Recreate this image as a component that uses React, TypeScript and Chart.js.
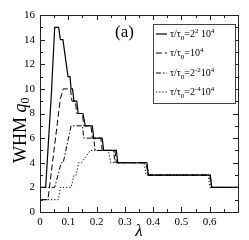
import React, { useEffect, useRef } from "react";
import { Chart, registerables } from "chart.js";
Chart.register(...registerables);

// series: tau/tau0 = 2^2 10^4 (solid)
const solidLambda = [0.005, 0.02, 0.04, 0.052, 0.066, 0.072, 0.081, 0.099, 0.106, 0.11, 0.115, 0.12, 0.13, 0.135, 0.152, 0.16, 0.185, 0.19, 0.22, 0.225, 0.27, 0.275, 0.378, 0.383, 0.602, 0.607, 0.7];
const solidValue = [2, 2, 9.5, 15, 15, 14, 14, 11, 11, 10, 10, 9, 9, 8, 8, 7, 7, 6, 6, 5, 5, 4, 4, 3, 3, 2, 2];
// tau/tau0 = 10^4 (dashed)
const dashLambda = [0.005, 0.028, 0.072, 0.082, 0.108, 0.113, 0.125, 0.13, 0.15, 0.155, 0.18, 0.185, 0.215, 0.22, 0.265, 0.27, 0.378, 0.383, 0.602, 0.607, 0.7];
const dashValue = [1, 1, 9.2, 10, 10, 9, 9, 8, 8, 7, 7, 6, 6, 5, 5, 4, 4, 3, 3, 2, 2];
// tau/tau0 = 2^-2 10^4 (dash-dot)
const dashDotLambda = [0.005, 0.052, 0.075, 0.082, 0.11, 0.15, 0.155, 0.19, 0.195, 0.26, 0.265, 0.376, 0.381, 0.6, 0.605, 0.7];
const dashDotValue = [2, 2, 4, 4, 7, 7, 6, 6, 5, 5, 4, 4, 3, 3, 2, 2];
// tau/tau0 = 2^-4 10^4 (dotted)
const dotLambda = [0.005, 0.065, 0.072, 0.11, 0.12, 0.128, 0.136, 0.146, 0.178, 0.242, 0.25, 0.368, 0.375, 0.595, 0.6, 0.7];
const dotValue = [1, 1, 2, 2, 3, 3, 4, 4, 5, 5, 4, 4, 3, 3, 2, 2];

const xTickLabels = [0, 0.1, 0.2, 0.3, 0.4, 0.5, 0.6];
const yTickLabels = [0, 2, 4, 6, 8, 10, 12, 14, 16];

const serif = "'Liberation Serif', 'DejaVu Serif', serif";

const pts = (xs: number[], ys: number[]) => xs.map((x, i) => ({ x, y: ys[i] }));

const styles = [
  { dash: [] as number[], width: 1.2 },
  { dash: [6, 3], width: 1 },
  { dash: [5, 2, 1.5, 2], width: 1 },
  { dash: [1.2, 2], width: 1 },
];

type Seg = { t: string; k: "n" | "sub" | "sup" };
const legendTexts: Seg[][] = [
  [{ t: "τ/τ", k: "n" }, { t: "0", k: "sub" }, { t: "=2", k: "n" }, { t: "2", k: "sup" }, { t: " 10", k: "n" }, { t: "4", k: "sup" }],
  [{ t: "τ/τ", k: "n" }, { t: "0", k: "sub" }, { t: "=10", k: "n" }, { t: "4", k: "sup" }],
  [{ t: "τ/τ", k: "n" }, { t: "0", k: "sub" }, { t: "=2", k: "n" }, { t: "-2", k: "sup" }, { t: "10", k: "n" }, { t: "4", k: "sup" }],
  [{ t: "τ/τ", k: "n" }, { t: "0", k: "sub" }, { t: "=2", k: "n" }, { t: "-4", k: "sup" }, { t: "10", k: "n" }, { t: "4", k: "sup" }],
];

const decorPlugin = {
  id: "decor",
  afterDraw(chart: any) {
    const ctx = chart.ctx as CanvasRenderingContext2D;
    const { left, right, top, bottom } = chart.chartArea;
    const xs = chart.scales.x;
    const ys = chart.scales.y;
    ctx.save();
    ctx.strokeStyle = "#222";
    ctx.lineWidth = 1;
    ctx.setLineDash([]);
    ctx.strokeRect(Math.round(left) + 0.5, Math.round(top) + 0.5, Math.round(right - left), Math.round(bottom - top));
    for (let i = 0; i <= 13; i++) {
      const v = i * 0.05;
      const px = Math.round(xs.getPixelForValue(v)) + 0.5;
      const len = i % 2 === 0 ? 5 : 3;
      ctx.beginPath();
      ctx.moveTo(px, bottom);
      ctx.lineTo(px, bottom - len);
      ctx.moveTo(px, top);
      ctx.lineTo(px, top + len);
      ctx.stroke();
    }
    for (let v = 0; v <= 16; v++) {
      const py = Math.round(ys.getPixelForValue(v)) + 0.5;
      const len = v % 2 === 0 ? 5 : 3;
      ctx.beginPath();
      ctx.moveTo(left, py);
      ctx.lineTo(left + len, py);
      ctx.moveTo(right, py);
      ctx.lineTo(right - len, py);
      ctx.stroke();
    }
    ctx.fillStyle = "#000";
    ctx.font = `17px ${serif}`;
    ctx.textBaseline = "alphabetic";
    ctx.textAlign = "left";
    ctx.fillText("(a)", 115, 37);
    ctx.font = `italic 17px ${serif}`;
    ctx.textAlign = "center";
    ctx.fillText("λ", (left + right) / 2, 236);
    ctx.save();
    ctx.translate(26, 163);
    ctx.rotate(-Math.PI / 2);
    ctx.textAlign = "left";
    ctx.font = `18px ${serif}`;
    ctx.fillText("WHM ", 0, 0);
    let w = ctx.measureText("WHM ").width;
    ctx.font = `italic 18px ${serif}`;
    ctx.fillText("q", w, 0);
    w += ctx.measureText("q").width;
    ctx.font = `12px ${serif}`;
    ctx.fillText("0", w, 3);
    ctx.restore();
    const bx = 153.5, by = 24.5, bw = 82, bh = 79;
    ctx.fillStyle = "#fff";
    ctx.fillRect(bx, by, bw, bh);
    ctx.strokeStyle = "#444";
    ctx.lineWidth = 1;
    ctx.strokeRect(bx, by, bw, bh);
    const rows = [34, 53, 73, 92];
    rows.forEach((ry, i) => {
      ctx.strokeStyle = "#000";
      ctx.lineWidth = styles[i].width;
      ctx.setLineDash(styles[i].dash);
      ctx.beginPath();
      ctx.moveTo(156, ry);
      ctx.lineTo(167, ry);
      ctx.stroke();
      ctx.setLineDash([]);
      let x = 170;
      ctx.fillStyle = "#000";
      legendTexts[i].forEach((s) => {
        let size = 10, dy = 3;
        if (s.k === "sub") { size = 7; dy = 6; }
        if (s.k === "sup") { size = 7; dy = -1; }
        ctx.font = `${size}px ${serif}`;
        ctx.textAlign = "left";
        ctx.fillText(s.t, x, ry + dy);
        x += ctx.measureText(s.t).width;
      });
    });
    ctx.restore();
  },
};

export default function App() {
  const ref = useRef<HTMLCanvasElement>(null);
  useEffect(() => {
    document.body.style.margin = "0";
    const series = [
      pts(solidLambda, solidValue),
      pts(dashLambda, dashValue),
      pts(dashDotLambda, dashDotValue),
      pts(dotLambda, dotValue),
    ];
    const chart = new Chart(ref.current!, {
      type: "scatter",
      data: {
        datasets: series.map((d, i) => ({
          data: d,
          showLine: true,
          borderColor: "#000",
          backgroundColor: "#000",
          borderWidth: styles[i].width,
          borderDash: styles[i].dash,
          pointRadius: 0,
          tension: 0,
        })),
      },
      options: {
        responsive: false,
        animation: false,
        layout: { padding: { top: 15, right: 11, left: 0, bottom: 0 } },
        plugins: { legend: { display: false }, tooltip: { enabled: false } },
        scales: {
          x: {
            type: "linear",
            min: 0,
            max: 0.7,
            grid: { display: false, drawTicks: false },
            border: { display: false },
            afterBuildTicks: (s: any) => { s.ticks = xTickLabels.map((v) => ({ value: v })); },
            afterFit: (s: any) => { s.height = 28; },
            ticks: {
              padding: 4,
              color: "#000",
              maxRotation: 0,
              font: { family: serif, size: 11 },
              callback: (v: any) => String(Number(v)),
            },
          },
          y: {
            min: 0,
            max: 16,
            grid: { display: false, drawTicks: false },
            border: { display: false },
            afterBuildTicks: (s: any) => { s.ticks = yTickLabels.map((v) => ({ value: v })); },
            afterFit: (s: any) => { s.width = 40; },
            ticks: {
              padding: 5,
              color: "#000",
              font: { family: serif, size: 11 },
            },
          },
        },
      },
      plugins: [decorPlugin],
    } as any);
    return () => chart.destroy();
  }, []);
  return <canvas ref={ref} width={249} height={240} style={{ display: "block" }} />;
}
